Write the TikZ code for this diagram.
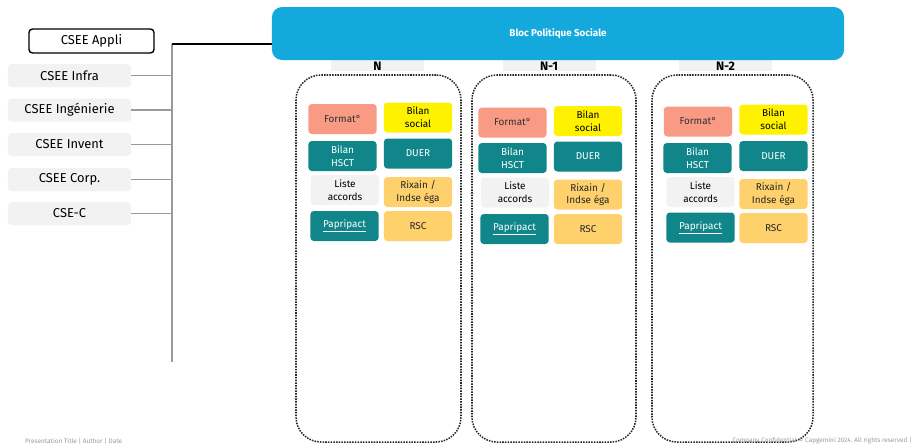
\documentclass[tikz,border=0pt]{standalone}
\usepackage{fontspec}
\setmainfont{Fira Sans}
\definecolor{blocblue}{HTML}{14A9DC}
\definecolor{teal}{HTML}{10868A}
\definecolor{peach}{HTML}{F89A84}
\definecolor{zest}{HTML}{FFD16C}
\definecolor{lightgrey}{HTML}{F2F2F2}
\definecolor{busgrey}{HTML}{9A9A9A}
\tikzset{
  cse/.style={rectangle, rounded corners=3pt, fill=lightgrey, minimum width=3.69cm, minimum height=0.69cm, inner sep=0pt, font=\fontsize{11}{13}\selectfont},
  item/.style={rectangle, rounded corners=3pt, minimum width=2.05cm, minimum height=0.9cm, inner sep=0pt, align=center, font=\fontsize{8.5}{11}\selectfont},
  peachbox/.style={item, fill=peach, text=black!80},
  yellowbox/.style={item, fill=yellow, text=black},
  tealbox/.style={item, fill=teal, text=white},
  zestbox/.style={item, fill=zest, text=black!85},
  greybox/.style={item, fill=lightgrey, text=black},
  tab/.style={rectangle, fill=lightgrey, minimum width=2.79cm, minimum height=0.48cm, inner sep=0pt},
  year/.style={font=\fontsize{10.5}{12}\selectfont\bfseries, inner sep=0pt},
  year box/.style={rectangle, draw=black!85, densely dotted, line width=1.3pt, rounded corners=0.75cm, minimum height=11.01cm, inner sep=0pt},
  bus/.style={draw=busgrey, line width=1.4pt},
  footer/.style={font=\fontsize{5.5}{6}\selectfont, text=black!40, inner sep=0pt}
}
\begin{document}
\begin{tikzpicture}[x=0.03cm, y=-0.03cm]
\useasboundingbox (0,0) rectangle (923,446);

% CSE list
\node[cse, fill=white, draw=black, line width=1.2pt, minimum width=3.75cm, minimum height=0.72cm] (appli) at (91.5,41) {CSEE Appli};
\node[cse] (infra) at (69.5,75.5) {CSEE Infra};
\node[cse] (inge) at (69.5,110) {CSEE Ingénierie};
\node[cse] (invent) at (69.5,144.5) {CSEE Invent};
\node[cse] (corp) at (69.5,179.5) {CSEE Corp.};
\node[cse] (csec) at (69.5,213.5) {CSE-C};
\coordinate (busTop) at (172,44);
\coordinate (busEnd) at (172,362);
\draw[bus] (busTop) -- (busEnd);
\draw[bus] (infra.east) -- (infra.east -| busTop);
\draw[bus] (inge.east) -- (inge.east -| busTop);
\draw[bus] (invent.east) -- (invent.east -| busTop);
\draw[bus] (corp.east) -- (corp.east -| busTop);
\draw[bus] (csec.east) -- (csec.east -| busTop);

% year tabs (behind the bloc)
\node[tab] (tabN) at (377.5,63) {};
\node[tab] (tabN1) at (549,63) {};
\node[tab] (tabN2) at (725.5,63) {};

% bloc
\node[rectangle, rounded corners=0.3cm, fill=blocblue, minimum width=17.16cm, minimum height=1.59cm, text=white, font=\fontsize{8.4}{10}\selectfont\bfseries] (bloc) at (558,33.5) {Bloc Politique Sociale};
\draw[line width=1.4pt] (busTop) -- (busTop -| bloc.west);

\node[year] (yN) at (377.5,66) {N};
\node[year] (yN1) at (549,66) {N-1};
\node[year] (yN2) at (725.5,66) {N-2};

% columns
\node[year box, minimum width=4.95cm] (colN) at (378.5,258.5) {};
\node[year box, minimum width=4.92cm] (colN1) at (554,258.5) {};
\node[year box, minimum width=4.83cm] (colN2) at (732.5,258.5) {};

% N
\node[peachbox] (formN) at (342.5,119) {Format°};
\node[yellowbox] (socN) at (418,117.5) {Bilan\\social};
\node[tealbox] (hsctN) at (342.5,156) {Bilan\\HSCT};
\node[tealbox] (duerN) at (418,153.5) {DUER};
\node[greybox] (listN) at (345,190) {Liste\\accords};
\node[zestbox] (rixN) at (418,192) {Rixain /\\Indse éga};
\node[tealbox] (papN) at (344.5,226) {\underline{Papripact}};
\node[zestbox] (rscN) at (418,226) {RSC};

% N-1
\node[peachbox] (formN1) at (512.5,122.5) {Format°};
\node[yellowbox] (socN1) at (588,121) {Bilan\\social};
\node[tealbox] (hsctN1) at (512.5,158) {Bilan\\HSCT};
\node[tealbox] (duerN1) at (588,156.5) {DUER};
\node[greybox] (listN1) at (515,192.5) {Liste\\accords};
\node[zestbox] (rixN1) at (588,194.5) {Rixain /\\Indse éga};
\node[tealbox] (papN1) at (514.5,229) {\underline{Papripact}};
\node[zestbox] (rscN1) at (588,229) {RSC};

% N-2
\node[peachbox] (formN2) at (698,121.5) {Format°};
\node[yellowbox] (socN2) at (773.5,119.5) {Bilan\\social};
\node[tealbox] (hsctN2) at (697.5,158) {Bilan\\HSCT};
\node[tealbox] (duerN2) at (773.5,156) {DUER};
\node[greybox] (listN2) at (700.5,192) {Liste\\accords};
\node[zestbox] (rixN2) at (773.5,194) {Rixain /\\Indse éga};
\node[tealbox] (papN2) at (700.5,227.5) {\underline{Papripact}};
\node[zestbox] (rscN2) at (773.5,228) {RSC};

% footer
\node[footer, anchor=west] (title) at (25,441) {Presentation Title \textbar{} Author \textbar{} Date};
\node[footer, anchor=east] (conf) at (912,441) {Company Confidential © Capgemini 2024. All rights reserved \textbar};
\end{tikzpicture}
\end{document}
